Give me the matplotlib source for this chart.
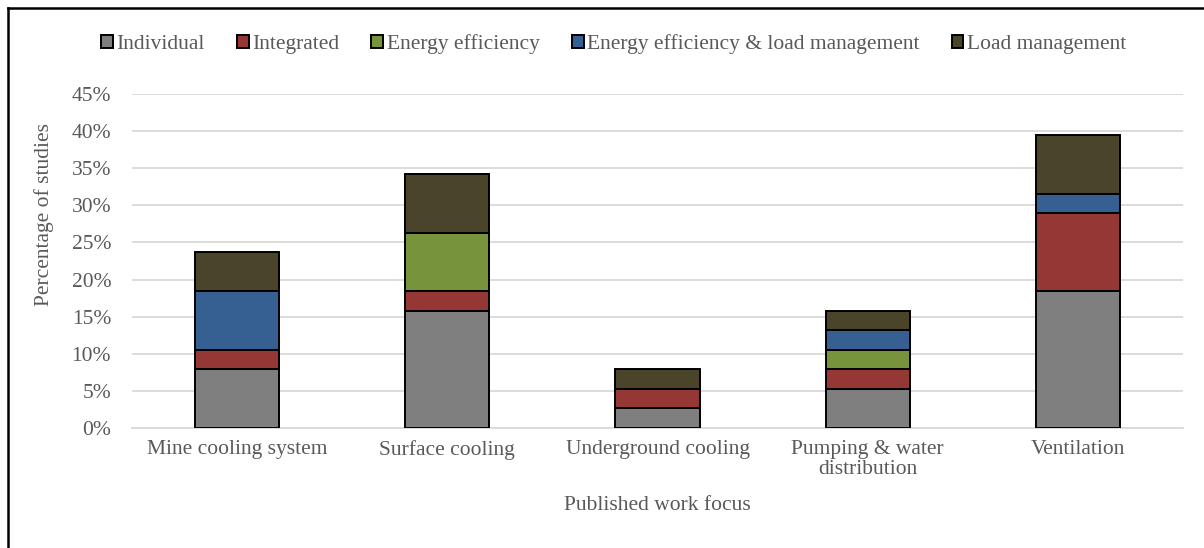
import matplotlib.pyplot as plt
import numpy as np
from matplotlib.lines import Line2D

plt.rcParams['font.family'] = ['Liberation Serif', 'DejaVu Serif']

categories = ['Mine cooling system', 'Surface cooling', 'Underground cooling',
              'Pumping & water\ndistribution', 'Ventilation']
series = ['Individual', 'Integrated', 'Energy efficiency',
          'Energy efficiency & load management', 'Load management']
colors = ['#7F7F7F', '#953735', '#77933C', '#366092', '#4A452A']

# percentage of studies per category
individual = [7.89, 15.79, 2.63, 5.26, 18.42]
integrated = [2.63, 2.63, 2.63, 2.63, 10.53]
energy_eff = [0.0, 7.89, 0.0, 2.63, 0.0]
ee_load = [7.89, 0.0, 0.0, 2.63, 2.63]
load_mgmt = [5.26, 7.89, 2.63, 2.63, 7.89]
values = [individual, integrated, energy_eff, ee_load, load_mgmt]

fs = 15.5
fig = plt.figure(figsize=(12.04, 5.48), dpi=100)
ax = fig.add_axes([0.1096, 0.219, 0.873, 0.6095])

x = np.arange(len(categories))
bottom = np.zeros(len(categories))
for name, vals, c in zip(series, values, colors):
    vals = np.array(vals)
    ax.bar(x, vals, 0.4, bottom=bottom, color=c, edgecolor='black',
           linewidth=1.4, label=name, zorder=3)
    bottom += vals

ax.set_xlim(-0.5, 4.5)
ax.set_ylim(0, 45)
ax.set_yticks(np.arange(0, 46, 5))
ax.set_yticklabels([f'{v}%' for v in range(0, 46, 5)])
ax.set_xticks(x)
ax.set_xticklabels(categories, linespacing=1.05)
ax.yaxis.grid(True, color='#D9D9D9', linewidth=1.3, zorder=0)
for s in ['top', 'right', 'left']:
    ax.spines[s].set_visible(False)
ax.spines['bottom'].set_color('#D9D9D9')
ax.spines['bottom'].set_linewidth(1.3)
ax.tick_params(axis='both', length=0, labelsize=fs, colors='#595959')
ax.tick_params(axis='y', pad=15)
ax.tick_params(axis='x', pad=9)

ax.set_ylabel('Percentage of studies', fontsize=fs, color='#595959')
ax.yaxis.set_label_coords(-0.074, 0.638)
ax.set_xlabel('Published work focus', fontsize=fs, color='#595959', labelpad=12)

leg = fig.legend(loc='center', bbox_to_anchor=(0.5096, 0.92), ncol=5,
                 frameon=False, fontsize=fs, handlelength=0.55, handleheight=0.55,
                 handletextpad=0.15, columnspacing=1.5)
for t in leg.get_texts():
    t.set_color('#595959')

# outer frame (left and top edges visible)
fig.add_artist(Line2D([0.0068, 0.0068], [0, 0.985], color='black', linewidth=1.8,
                      transform=fig.transFigure))
fig.add_artist(Line2D([0.0068, 1.0], [0.985, 0.985], color='black', linewidth=1.8,
                      transform=fig.transFigure))

fig.savefig('out.png', dpi=100)
